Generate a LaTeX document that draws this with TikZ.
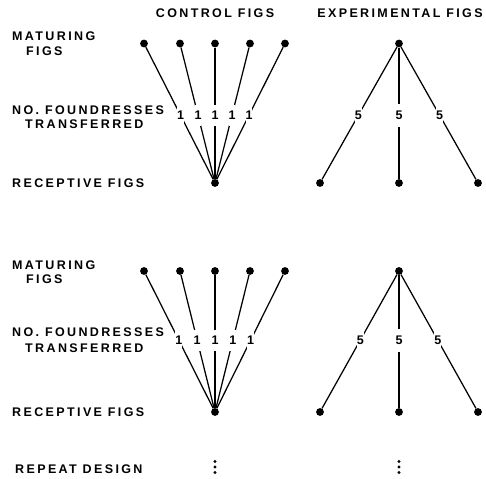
\documentclass[tikz,border=0pt]{standalone}
\usepackage{fontspec}
\setmainfont{Liberation Sans}[LetterSpace=19,BoldFont={Liberation Sans Bold}]
\begin{document}
\begin{tikzpicture}[x=1pt,y=-1pt,
  lab/.style={font=\fontsize{12.5}{14}\selectfont\bfseries, inner sep=0pt},
  fig/.style={circle, fill=black, inner sep=0pt, minimum size=7.8pt},
  num/.style={font=\fontsize{12.5}{14}\selectfont\bfseries, fill=white, inner sep=0pt, minimum height=21pt, minimum width=5pt},
  link/.style={line width=1.25pt},
  vdot/.style={circle, fill=black, inner sep=0pt, minimum size=3.2pt}]
\useasboundingbox (0,0) rectangle (486,478);
% headings
\node[lab] (hc) at (215,13) {CONTROL FIGS};
\node[lab] (he) at (400,13) {EXPERIMENTAL FIGS};
% ---- block 1 ----
\node[lab,anchor=west] (a1) at (12,36) {MATURING};
\node[lab,anchor=west] (a2) at (26,51.5) {FIGS};
\node[lab,anchor=west] (b1) at (12,110.5) {NO. FOUNDRESSES};
\node[lab,anchor=west] (b2) at (25,124.5) {TRANSFERRED};
\node[lab,anchor=west] (c1) at (12,183) {RECEPTIVE FIGS};
\foreach \i/\x in {1/144,2/180,3/215,4/250,5/285}{
  \node[fig] (cm\i) at (\x,43.5) {};
}
\node[fig] (cr) at (215,183) {};
\foreach \i in {1,...,5}{
  \draw[link] (cm\i) -- node[num,pos=0.515]{1} (cr);
}
\node[fig] (em) at (399,43.5) {};
\foreach \i/\x in {1/320,2/399,3/478}{
  \node[fig] (er\i) at (\x,183) {};
  \draw[link] (em) -- node[num,pos=0.515,minimum height=23pt]{5} (er\i);
}
% ---- block 2 ----
\node[lab,anchor=west] (a3) at (12,265) {MATURING};
\node[lab,anchor=west] (a4) at (26,279) {FIGS};
\node[lab,anchor=west] (b3) at (12,332.5) {NO. FOUNDRESSES};
\node[lab,anchor=west] (b4) at (25,348.3) {TRANSFERRED};
\node[lab,anchor=west] (c2) at (12,412.5) {RECEPTIVE FIGS};
\foreach \i/\x in {1/144,2/180,3/215,4/250,5/285}{
  \node[fig] (dm\i) at (\x,271) {};
}
\node[fig] (dr) at (215,412) {};
\foreach \i in {1,...,5}{
  \draw[link] (dm\i) -- node[num,pos=0.49]{1} (dr);
}
\node[fig] (fm) at (399,271) {};
\foreach \i/\x in {1/320,2/399,3/478}{
  \node[fig] (fr\i) at (\x,412) {};
  \draw[link] (fm) -- node[num,pos=0.49,minimum height=23pt]{5} (fr\i);
}
% repeat
\node[lab,anchor=west] (rd) at (15,469) {REPEAT DESIGN};
\foreach \x/\n in {215/c,399/e}{
  \node[vdot] (\n v1) at (\x,461.5) {};
  \node[vdot] (\n v2) at (\x,467) {};
  \node[vdot] (\n v3) at (\x,472.5) {};
}
\end{tikzpicture}
\end{document}
